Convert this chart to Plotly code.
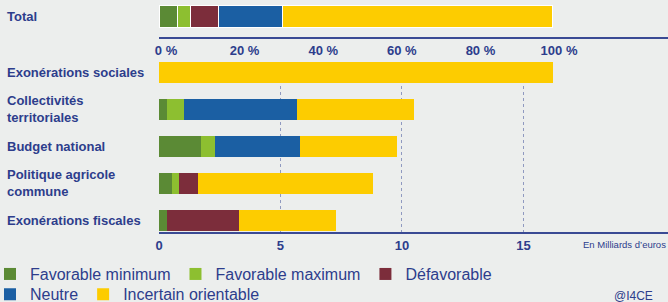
import plotly.graph_objects as go

# ---------------- data ----------------
categories = ["Exonérations sociales", "Collectivités territoriales", "Budget national",
              "Politique agricole commune", "Exonérations fiscales"]
category_labels = ["Exonérations sociales", "Collectivités<br>territoriales", "Budget national",
                   "Politique agricole<br>commune", "Exonérations fiscales"]
series_names = ["Favorable minimum", "Favorable maximum", "Défavorable", "Neutre", "Incertain orientable"]

fav_min = [0.0, 0.33, 1.73, 0.54, 0.33]
fav_max = [0.0, 0.70, 0.58, 0.28, 0.0]
defav = [0.0, 0.0, 0.0, 0.79, 2.96]
neutre = [0.0, 4.65, 3.49, 0.0, 0.0]
incertain = [16.2, 4.82, 3.98, 7.20, 4.00]

total_label = "Total"
total_pct = [4.8, 3.2, 7.2, 16.1, 68.7]

x_ticks = [0, 5, 10, 15]
pct_ticks = [0, 20, 40, 60, 80, 100]
pct_ticklabels = ["0 %", "20 %", "40 %", "60 %", "80 %", "100 %"]
unit_label = "En Milliards d’euros"
source_label = "@I4CE"

# ---------------- style ----------------
colors = ["#5b8a35", "#8dbf30", "#7c2d3b", "#1b5fa3", "#fdcc00"]
navy = "#2d3d8c"
bg = "#eceeed"
sans = "Liberation Sans, Arial, sans-serif"

series_values = [fav_min, fav_max, defav, neutre, incertain]

fig = go.Figure()

for i, (name, vals) in enumerate(zip(series_names, series_values)):
    fig.add_trace(go.Bar(
        y=categories, x=vals, name=name, orientation="h",
        marker=dict(color=colors[i], line=dict(width=0)),
        xaxis="x", yaxis="y",
        legend="legend" if i < 3 else "legend2",
        legendgroup=name, hoverinfo="x+name",
    ))

for i, name in enumerate(series_names):
    fig.add_trace(go.Bar(
        y=[total_label], x=[total_pct[i]], name=name, orientation="h",
        marker=dict(color=colors[i], line=dict(width=1, color="white")),
        xaxis="x2", yaxis="y2", showlegend=False, legendgroup=name,
    ))

# Category labels (left aligned, like the reference)
label_x = (5 - 159) / 509
annotations = []
for cat, lab in zip(categories, category_labels):
    annotations.append(dict(
        x=label_x, xref="paper", y=cat, yref="y", text=f"<b>{lab}</b>",
        xanchor="left", align="left", showarrow=False,
        font=dict(family=sans, size=13, color=navy),
    ))
annotations.append(dict(
    x=label_x, xref="paper", y=total_label, yref="y2", text=f"<b>{total_label}</b>",
    xanchor="left", align="left", showarrow=False,
    font=dict(family=sans, size=13, color=navy),
))
annotations.append(dict(
    x=1.0, xref="paper", y=-0.056, yref="paper", text=unit_label,
    xanchor="right", yanchor="middle", showarrow=False,
    font=dict(family=sans, size=9.5, color=navy),
))
annotations.append(dict(
    x=0.975, xref="paper", y=-0.276, yref="paper", text=source_label,
    xanchor="right", yanchor="middle", showarrow=False,
    font=dict(family=sans, size=12, color=navy),
))

legend_common = dict(
    orientation="h", xanchor="left", yanchor="top",
    x=(-10 - 159) / 509, bgcolor="rgba(0,0,0,0)",
    font=dict(family=sans, size=16, color=navy),
    itemclick=False, itemdoubleclick=False,
)

fig.update_layout(
    width=668, height=302,
    margin=dict(l=159, r=0, t=0, b=70, autoexpand=False),
    paper_bgcolor=bg, plot_bgcolor=bg,
    barmode="stack", bargap=0.43,
    showlegend=True,
    legend=dict(legend_common, y=-0.108),
    legend2=dict(legend_common, y=-0.195),
    annotations=annotations,
    xaxis=dict(
        domain=[0, 1], anchor="y", range=[0, 20.95],
        tickmode="array", tickvals=x_ticks,
        showgrid=True, griddash="dot", gridcolor="#8f99c0", gridwidth=1,
        zeroline=False, showline=True, linecolor="#3a4a94", linewidth=2,
        ticks="", tickfont=dict(family=sans, size=13, color=navy, weight="bold"),
    ),
    yaxis=dict(
        domain=[0, 0.733], anchor="x", type="category",
        categoryorder="array", categoryarray=categories,
        range=[4.325, -0.29], showticklabels=False,
        showgrid=False, zeroline=False, showline=False,
    ),
    xaxis2=dict(
        domain=[0, 1], anchor="y2", range=[0, 129.5],
        tickmode="array", tickvals=pct_ticks, ticktext=pct_ticklabels,
        showgrid=False, zeroline=False, showline=True,
        linecolor="#3a4a94", linewidth=2, ticks="", ticklabelshift=7,
        tickfont=dict(family=sans, size=13, color=navy, weight="bold"),
    ),
    yaxis2=dict(
        domain=[0.8405, 1], anchor="x2", type="category",
        range=[-0.554, 0.446], showticklabels=False,
        showgrid=False, zeroline=False, showline=False,
    ),
)

fig.write_html(
    "out.html",
    config={"displayModeBar": False},
    post_script="document.body.style.margin='0';document.body.style.overflow='hidden';",
)
